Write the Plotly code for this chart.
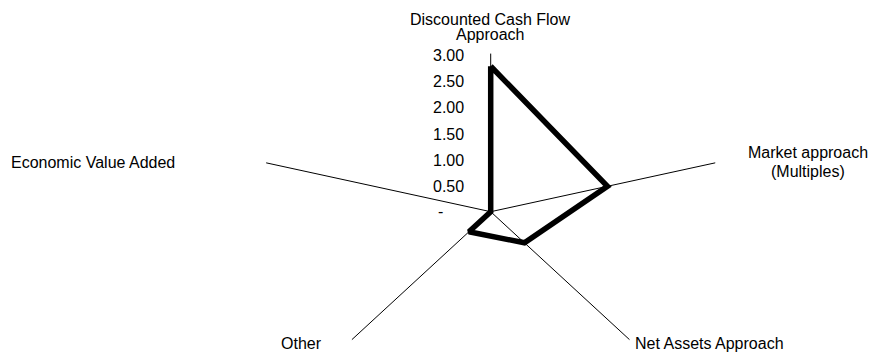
import numpy as np
import plotly.graph_objects as go

categories = [
    "Discounted Cash Flow<br>Approach",
    "Market approach<br>(Multiples)",
    "Net Assets Approach",
    "Other",
    "Economic Value Added",
]
values = [2.76, 1.56, 0.73, 0.47, 0.0]
tick_values = [0, 0.5, 1.0, 1.5, 2.0, 2.5, 3.0]
tick_labels = ["-", "0.50", "1.00", "1.50", "2.00", "2.50", "3.00"]
r_max = 3.0

W, H = 873, 352
cx, cy = 490.7, 211.7   # centre of the radar, pixels
sx, sy = 78.7, 52.7     # pixels per unit; the radar is stretched sideways

FONT = dict(family="Arial, 'Liberation Sans', sans-serif", size=16, color="black")

# label placement relative to the end of each spoke (pixels), one yshift per line
label_pos = [
    dict(xanchor="center", xshift=0, yshifts=[34.4, 18.9]),
    dict(xanchor="center", xshift=93, yshifts=[10.3, -8.2]),
    dict(xanchor="left", xshift=4.5, yshifts=[-4]),
    dict(xanchor="right", xshift=-29, yshifts=[-3.5]),
    dict(xanchor="right", xshift=-90, yshifts=[0.5]),
]

n = len(categories)
angles = np.deg2rad(np.arange(n) * 360.0 / n)  # clockwise from the top


def to_xy(r, a):
    return r * np.sin(a), r * np.cos(a)


fig = go.Figure()

# spokes
sx_pts, sy_pts = [], []
for a in angles:
    ex, ey = to_xy(r_max, a)
    sx_pts += [0, ex, None]
    sy_pts += [0, ey, None]
fig.add_trace(go.Scatter(
    x=sx_pts, y=sy_pts, mode="lines",
    line=dict(color="black", width=1),
    hoverinfo="skip", showlegend=False,
))

# data polygon
vx, vy = to_xy(np.array(values + values[:1]), np.append(angles, angles[0]))
fig.add_trace(go.Scatter(
    x=vx, y=vy, mode="lines",
    line=dict(color="black", width=5.5),
    showlegend=False,
))

# value labels along the top spoke
for v, t in zip(tick_values, tick_labels):
    if t == "-":
        ann = dict(xanchor="center", xshift=-50.7, yshift=0)
    else:
        ann = dict(xanchor="right", xshift=-25.7, yshift=-1.5)
    fig.add_annotation(x=0, y=v, text=t, showarrow=False, yanchor="middle",
                       borderpad=0, font=FONT, **ann)

# category labels
for cat, a, pos in zip(categories, angles, label_pos):
    ex, ey = to_xy(r_max, a)
    for line, ys in zip(cat.split("<br>"), pos["yshifts"]):
        fig.add_annotation(x=ex, y=ey, text=line, showarrow=False,
                           xanchor=pos["xanchor"], yanchor="middle",
                           xshift=pos["xshift"], yshift=ys,
                           borderpad=0, font=FONT)

fig.update_xaxes(range=[-cx / sx, (W - cx) / sx], visible=False, fixedrange=True)
fig.update_yaxes(range=[-(H - cy) / sy, cy / sy], visible=False, fixedrange=True)
fig.update_layout(
    width=W, height=H,
    margin=dict(l=0, r=0, t=0, b=0),
    paper_bgcolor="white", plot_bgcolor="white",
    showlegend=False,
)

# drop the default body margin so the figure fills the window exactly
fig.write_html("out.html",
               config={"displayModeBar": False},
               post_script="document.body.style.margin='0';"
                           "document.body.style.overflow='hidden';")
